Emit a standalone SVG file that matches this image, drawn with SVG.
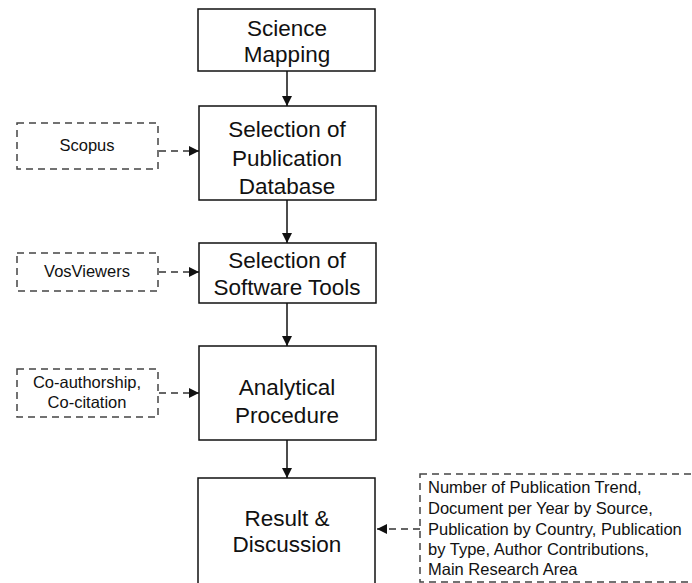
<svg xmlns="http://www.w3.org/2000/svg" width="692" height="583" viewBox="0 0 692 583">
<style>
.box{fill:#fff;stroke:#111;stroke-width:1.5}
.dbox{fill:#fff;stroke:#444;stroke-width:1.5;stroke-dasharray:7 5}
.big{font-family:"Liberation Sans",Arial,sans-serif;font-size:22.5px;fill:#111;text-anchor:middle}
.sm{font-family:"Liberation Sans",Arial,sans-serif;font-size:16.5px;fill:#111;text-anchor:middle}
.smL{font-family:"Liberation Sans",Arial,sans-serif;font-size:16.5px;fill:#111}
.conn{stroke:#111;stroke-width:1.5;fill:none}
.dconn{stroke:#333;stroke-width:1.5;fill:none;stroke-dasharray:7 5}
</style>
<defs>
<marker id="ah" viewBox="0 0 10 10" refX="10" refY="5" markerWidth="10" markerHeight="10" markerUnits="userSpaceOnUse" orient="auto">
<path d="M0,0 L10,5 L0,10 Z" fill="#111"/>
</marker>
</defs>
<rect width="692" height="583" fill="#fff"/>
<g id="connectors">
<line class="conn" x1="287" y1="71" x2="287" y2="106" marker-end="url(#ah)"/>
<line class="conn" x1="287" y1="200" x2="287" y2="243" marker-end="url(#ah)"/>
<line class="conn" x1="287" y1="303" x2="287" y2="346" marker-end="url(#ah)"/>
<line class="conn" x1="287" y1="440" x2="287" y2="478" marker-end="url(#ah)"/>
<line class="dconn" x1="159" y1="151" x2="199" y2="151" marker-end="url(#ah)"/>
<line class="dconn" x1="159" y1="272" x2="199" y2="272" marker-end="url(#ah)"/>
<line class="dconn" x1="159" y1="393" x2="199" y2="393" marker-end="url(#ah)"/>
<line class="dconn" x1="420" y1="529" x2="377" y2="529" marker-end="url(#ah)"/>
</g>
<g id="science-mapping">
<rect class="box" x="198" y="9" width="177" height="62"/>
<text class="big" x="287" y="36">Science</text>
<text class="big" x="287" y="62">Mapping</text>
</g>
<g id="selection-db">
<rect class="box" x="199" y="106" width="177" height="94"/>
<text class="big" x="287" y="137">Selection of</text>
<text class="big" x="287" y="166">Publication</text>
<text class="big" x="287" y="194">Database</text>
</g>
<g id="scopus">
<rect class="dbox" x="17" y="123" width="141" height="46"/>
<text class="sm" x="87" y="151">Scopus</text>
</g>
<g id="selection-tools">
<rect class="box" x="199" y="243" width="177" height="60"/>
<text class="big" x="287" y="268">Selection of</text>
<text class="big" x="287" y="295">Software Tools</text>
</g>
<g id="vosviewers">
<rect class="dbox" x="17" y="253" width="141" height="38"/>
<text class="sm" x="87" y="277">VosViewers</text>
</g>
<g id="analytical">
<rect class="box" x="199" y="346" width="177" height="94"/>
<text class="big" x="287" y="395">Analytical</text>
<text class="big" x="287" y="423">Procedure</text>
</g>
<g id="coauthorship">
<rect class="dbox" x="17" y="369" width="141" height="48"/>
<text class="sm" x="87" y="388">Co-authorship,</text>
<text class="sm" x="87" y="408">Co-citation</text>
</g>
<g id="result">
<rect class="box" x="198" y="478" width="177" height="120"/>
<text class="big" x="287" y="526">Result &amp;</text>
<text class="big" x="287" y="552">Discussion</text>
</g>
<g id="outputs">
<rect class="dbox" x="420" y="474" width="290" height="108"/>
<text class="smL" x="428" y="493">Number of Publication Trend,</text>
<text class="smL" x="428" y="514">Document per Year by Source,</text>
<text class="smL" x="428" y="535">Publication by Country, Publication</text>
<text class="smL" x="428" y="555">by Type, Author Contributions,</text>
<text class="smL" x="428" y="575">Main Research Area</text>
</g>
</svg>
